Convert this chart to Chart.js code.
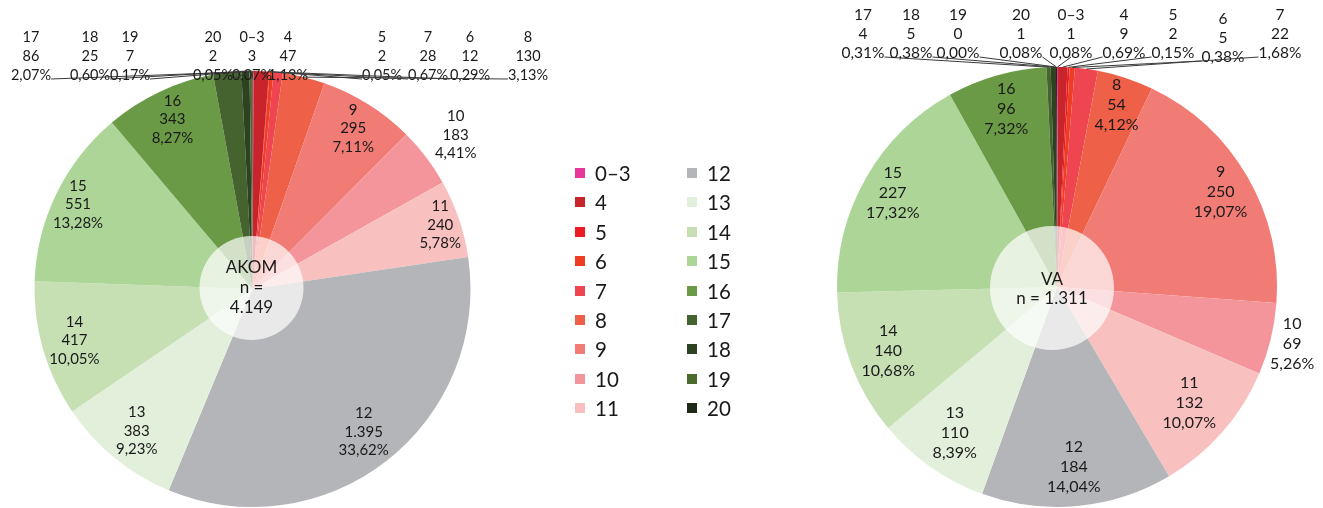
<!DOCTYPE html>
<html><head><meta charset="utf-8">
<script src="https://cdn.jsdelivr.net/npm/chart.js@4.4.1/dist/chart.umd.min.js"></script>
<style>
html,body{margin:0;padding:0;background:#fff;width:1323px;height:508px;overflow:hidden;position:relative;}
canvas{position:absolute;left:0;top:0;}
#legend{position:absolute;left:0;top:0;width:1323px;height:508px;font-family:Lato,"Open Sans",sans-serif;font-size:20.5px;color:#1a1a1a;pointer-events:none;}
.li{position:absolute;display:flex;align-items:center;height:24px;line-height:24px;}
.sw{width:10px;height:10px;margin-right:10px;box-sizing:border-box;}
</style></head><body>
<canvas id="c1" width="1323" height="508"></canvas>
<canvas id="c2" width="1323" height="508"></canvas>
<div id="legend"></div>
<script>
// ---- data ----
const categories = ['0–3','4','5','6','7','8','9','10','11','12','13','14','15','16','17','18','19','20'];
const akomValues = [3,47,2,12,28,130,295,183,240,1395,383,417,551,343,86,25,7,2];
const vaValues   = [1,9,2,5,22,54,250,69,132,184,110,140,227,96,4,5,0,1];
const akomName = 'AKOM';
const vaName = 'VA';
const sliceColors = ['#E8379A','#C9232B','#ED1C24','#EF3D23','#EF4550','#EE6148','#F07C75','#F4959B','#F8C0BF',
  '#B4B5B9','#E2EFDA','#C6E0B4','#ADD598','#6A9A46','#44632E','#2C4220','#4B6B2C','#1E2B14'];

// ---- label layout (positions of data labels, not data) ----
const akomLabelLayout = {
  '17':{x:31,y:37}, '18':{x:90,y:37}, '19':{x:130,y:37}, '20':{x:213,y:37},
  '0–3':{x:252,y:37}, '4':{x:288,y:37}, '5':{x:382,y:37}, '7':{x:428,y:37}, '6':{x:470,y:37}, '8':{x:528,y:37},
  '9':{r:0.87}, '10':{r:1.17}, '11':{r:0.91}, '12':{r:0.83}, '13':{r:0.84}, '14':{r:0.85}, '15':{r:0.89}, '16':{r:0.86}
};
const vaLabelLayout = {
  '17':{x:863,y:15}, '18':{x:911,y:15}, '19':{x:958,y:15}, '20':{x:1021,y:15},
  '0–3':{x:1071,y:15}, '4':{x:1124,y:15}, '5':{x:1173,y:15}, '6':{x:1223,y:19}, '7':{x:1280,y:15},
  '8':{r:0.87}, '9':{r:0.86}, '10':{r:1.10}, '11':{r:0.80}, '12':{r:0.82}, '13':{r:0.81}, '14':{r:0.82}, '15':{r:0.86}, '16':{r:0.84}
};

function fmtInt(v){ return String(v).replace(/\B(?=(\d{3})+(?!\d))/g,'.'); }
function fmtPct(v,t){ return (v/t*100).toFixed(2).replace('.',',') + '%'; }
const FONT = 'Lato, "Open Sans", sans-serif';

const labelPlugin = {
  id:'pieLabels',
  afterDatasetsDraw(chart, args, o){
    const ctx = chart.ctx;
    const meta = chart.getDatasetMeta(0);
    const data = chart.data.datasets[0].data;
    const total = data.reduce((a,b)=>a+b,0);
    const a0 = meta.data[0];
    const cx = a0.x, cy = a0.y, R = a0.outerRadius;
    ctx.save();
    // centre circle
    ctx.fillStyle = 'rgba(255,255,255,0.7)';
    ctx.beginPath(); ctx.arc(cx+o.circleDx, cy+o.circleDy, o.circleR, 0, Math.PI*2); ctx.fill();
    ctx.fillStyle = '#1a1a1a'; ctx.textAlign='center'; ctx.textBaseline='middle';
    ctx.font = o.titleFont;
    const title = o.titleLines(total);
    title.forEach((t,i)=>ctx.fillText(t, cx+o.circleDx, cy+o.titleY0+i*o.titleLH));
    // slice labels
    meta.data.forEach((arc,i)=>{
      const name = chart.data.labels[i];
      const lay = o.layout[name];
      const mid = (arc.startAngle+arc.endAngle)/2;
      const lines = [name, fmtInt(data[i]), fmtPct(data[i], total)];
      if (lay.r !== undefined){
        ctx.font = o.inFont;
        const x = cx + Math.cos(mid)*R*lay.r, y = cy + Math.sin(mid)*R*lay.r;
        lines.forEach((t,k)=>ctx.fillText(t, x, y + (k-1)*o.inLH));
      } else {
        ctx.font = o.topFont;
        const w = Math.max(...lines.map(t=>ctx.measureText(t).width));
        const yb = lay.y + 2*o.topLH + o.lineDrop;
        const ax = cx + Math.cos(mid)*R, ay = cy + Math.sin(mid)*R;
        let sx;
        if (lay.x + w/2 < ax) sx = lay.x + w/2;
        else if (lay.x - w/2 > ax) sx = lay.x - w/2;
        else sx = lay.x;
        ctx.strokeStyle = '#3a3a3a'; ctx.lineWidth = 1;
        ctx.beginPath(); ctx.moveTo(sx, yb); ctx.lineTo(ax, ay); ctx.stroke();
        ctx.fillStyle = '#1a1a1a';
        lines.forEach((t,k)=>ctx.fillText(t, lay.x, lay.y + k*o.topLH));
      }
    });
    ctx.restore();
  }
};

function makePie(id, values, padding, opts){
  return new Chart(document.getElementById(id), {
    type:'pie',
    data:{ labels:categories, datasets:[{ data:values, backgroundColor:sliceColors, borderWidth:0 }] },
    options:{
      responsive:false, animation:false, devicePixelRatio:1,
      layout:{ padding },
      plugins:{ legend:{display:false}, tooltip:{enabled:false}, pieLabels:opts }
    },
    plugins:[labelPlugin]
  });
}

makePie('c1', akomValues, {left:34.5, right:852.5, top:71, bottom:1}, {
  layout:akomLabelLayout, circleR:52, circleDx:-1, circleDy:-1,
  titleFont:'17px '+FONT, titleY0:-21, titleLH:20,
  titleLines:(t)=>[akomName, 'n =', fmtInt(t)],
  inFont:'15px '+FONT, inLH:18.5, topFont:'14.5px '+FONT, topLH:19, lineDrop:4
});
makePie('c2', vaValues, {left:837, right:46, top:67, bottom:1}, {
  layout:vaLabelLayout, circleR:62, circleDx:-5, circleDy:1,
  titleFont:'17px '+FONT, titleY0:-7, titleLH:19,
  titleLines:(t)=>[vaName, 'n = ' + fmtInt(t)],
  inFont:'16px '+FONT, inLH:20, topFont:'15.5px '+FONT, topLH:19, lineDrop:4
});

// ---- legend ----
const leg = document.getElementById('legend');
categories.forEach((c,i)=>{
  const col = i < 9 ? 0 : 1, row = i % 9;
  const d = document.createElement('div');
  d.className = 'li';
  d.style.left = (col ? 687 : 575) + 'px';
  d.style.top = (173 + row*29.4 - 12) + 'px';
  const s = document.createElement('span');
  s.className = 'sw'; s.style.background = sliceColors[i];
  const t = document.createElement('span'); t.textContent = c;
  d.appendChild(s); d.appendChild(t); leg.appendChild(d);
});
</script>
</body></html>
